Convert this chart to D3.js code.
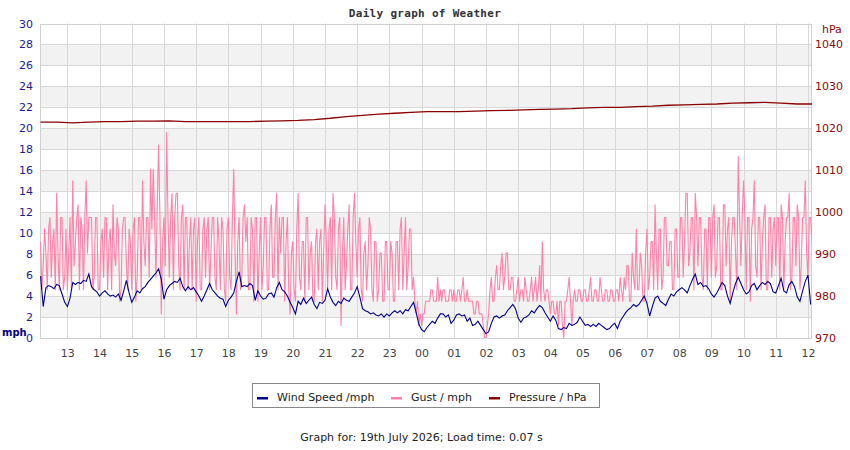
<!DOCTYPE html>
<html><head><meta charset="utf-8">
<script src="https://cdn.jsdelivr.net/npm/d3@7"></script>
<style>
body{margin:0;background:#fff}
svg{display:block}
text{font-family:"DejaVu Sans",Verdana,sans-serif}
</style>
</head><body>
<svg id="chart" width="850" height="450"></svg>
<script>
// ---------- DATA ----------
const chartTitle = "Daily graph of Weather";
const footerText = "Graph for: 19th July 2026; Load time: 0.07 s";
const seriesNames = ["Wind Speed /mph", "Gust / mph", "Pressure / hPa"];
const seriesColors = ["#00008b", "#ff80a8", "#8b0000"];
const mphTicks = [0,2,4,6,8,10,12,14,16,18,20,22,24,26,28,30];
const hpaTicks = [970,980,990,1000,1010,1020,1030,1040];
const hourLabels = ["13","14","15","16","17","18","19","20","21","22","23","00","01","02","03","04","05","06","07","08","09","10","11","12"];

// wind speed (mph): 5-minute samples starting 18 Jul 12:10
const windSpeed = [
5.9,3.0,4.8,5.0,4.9,4.7,5.1,5.0,4.2,3.4,
3.0,3.8,5.3,5.1,5.3,5.2,5.5,5.4,6.1,4.9,
4.6,4.4,4.0,4.3,4.5,4.2,4.0,4.1,3.9,4.2,
3.6,4.5,5.5,4.3,3.4,3.9,4.5,4.3,4.7,4.9,
5.3,5.6,5.9,6.2,6.6,5.6,3.7,4.6,5.0,5.2,
5.4,5.3,5.7,4.9,4.5,4.9,4.6,4.8,4.4,4.0,
3.5,4.0,4.6,5.2,4.6,4.3,4.0,3.8,3.7,3.0,
3.6,3.9,4.3,5.4,6.3,4.9,5.0,4.9,5.2,5.0,
3.6,4.5,4.0,3.7,3.8,4.2,4.3,3.9,4.8,5.3,
4.6,4.4,4.0,3.4,2.9,2.3,
3.5,3.2,3.8,3.3,3.6,3.9,3.2,2.8,3.4,3.3,
3.6,4.7,3.9,3.4,3.1,3.5,3.3,3.8,3.6,3.5,
3.9,4.3,4.9,3.9,2.8,2.6,2.5,2.3,2.4,2.2,
2.1,2.3,2.0,2.3,2.1,2.4,2.6,2.4,2.6,2.3,
2.7,2.6,3.0,3.4,2.4,1.3,0.8,0.6,1.0,1.3,
1.6,1.4,1.9,2.3,2.3,2.0,2.2,1.4,1.7,2.2,
2.3,2.1,2.2,1.6,1.9,1.2,1.3,1.6,1.2,0.8,
0.4,0.6,1.4,2.0,2.1,1.9,2.1,2.2,2.6,2.9,
3.2,2.8,1.9,1.5,1.9,2.0,2.2,2.6,2.4,2.8,
3.1,2.9,2.4,2.0,1.6,2.1,
1.7,0.9,0.8,1.0,0.9,1.4,1.2,1.3,1.5,2.0,
1.6,1.2,1.3,1.1,1.3,1.1,1.4,1.2,1.0,0.8,
0.9,1.2,1.4,0.9,1.6,2.0,2.4,2.7,2.9,3.2,
3.0,3.2,3.6,4.0,3.3,2.1,3.0,3.8,4.0,3.5,
3.3,3.1,3.7,4.2,4.0,4.4,4.6,4.8,4.6,4.3,
5.0,5.6,6.1,5.1,5.3,4.9,5.0,4.7,4.2,3.9,
4.3,4.8,5.3,5.0,4.0,3.3,4.3,5.2,5.8,5.2,
4.6,4.2,4.4,5.0,5.2,4.6,5.0,5.3,5.1,5.4,
5.2,4.4,4.3,5.0,5.7,4.5,4.3,5.1,5.4,4.9,
3.9,3.5,4.5,5.4,6.0,3.2
];

// gust (mph): 2.5-minute samples starting 18 Jul 12:10
const gust = [
9.2,4.6,6.9,10.4,8.1,4.6,10.4,11.5,5.8,9.2,10.4,4.6,13.8,8.1,4.6,11.5,11.5,4.6,5.8,10.4,
4.6,8.1,11.5,4.6,15.0,6.9,9.2,11.5,12.7,4.6,11.5,10.4,4.6,11.5,15.0,8.1,11.5,11.5,11.5,4.6,5.8,11.5,11.5,4.6,
4.6,9.2,10.4,5.8,11.5,11.5,4.6,9.2,10.4,4.6,12.7,8.1,6.9,11.5,10.4,3.5,4.6,10.4,11.5,11.5,6.9,4.6,10.4,9.2,
4.6,10.4,11.5,3.5,5.8,11.5,11.5,4.6,15.0,9.2,6.9,11.5,11.5,5.8,16.1,10.4,16.1,11.5,5.8,12.7,18.4,11.5,2.3,9.2,
11.5,6.9,19.6,11.5,5.8,11.5,13.8,4.6,11.5,13.8,13.8,6.9,4.6,11.5,12.7,4.6,11.5,11.5,4.6,9.2,11.5,4.6,10.4,11.5,
3.5,9.2,11.5,4.6,4.6,10.4,11.5,5.8,10.4,11.5,4.6,8.1,11.5,11.5,5.8,4.6,11.5,9.2,4.6,11.5,10.4,4.6,3.5,10.4,
11.5,5.8,4.6,11.5,16.1,8.1,2.3,9.2,11.5,4.6,5.8,11.5,12.7,9.2,11.5,4.6,4.6,11.5,10.4,3.5,11.5,11.5,3.5,8.1,
11.5,4.6,6.9,11.5,11.5,4.6,4.6,10.4,12.7,5.8,5.8,11.5,13.8,4.6,11.5,8.1,11.5,11.5,3.5,9.2,11.5,4.6,2.3,8.1,
9.2,4.6,3.5,10.4,13.8,5.8,4.6,9.2,9.2,3.5,11.5,11.5,4.6,8.1,9.2,3.5,3.5,9.2,10.4,4.6,9.2,10.4,3.5,8.1,
12.7,9.2,4.6,10.4,11.5,4.6,13.8,11.5,5.8,4.6,10.4,11.5,1.2,8.1,11.5,4.6,6.9,10.4,12.7,4.6,4.6,11.5,13.8,9.2,
5.8,10.4,11.5,4.6,3.5,8.1,9.2,4.6,6.9,11.5,10.4,4.6,3.5,9.2,9.2,3.5,4.6,8.1,8.1,3.5,3.5,9.2,9.2,4.6,
4.6,9.2,8.1,3.5,3.5,9.2,9.2,4.6,10.4,11.5,4.6,8.1,11.5,4.6,6.9,10.4,10.4,4.6,5.8,3.5,2.3,3.5,1.2,2.3,
1.2,2.3,2.3,3.5,3.5,3.5,3.5,4.6,4.6,3.5,3.5,3.5,5.8,3.5,4.6,3.5,4.6,4.6,3.5,3.5,3.5,4.6,4.6,3.5,
4.6,3.5,3.5,4.6,4.6,3.5,4.6,5.8,3.5,3.5,4.6,3.5,3.5,3.5,3.5,2.3,2.3,3.5,3.5,2.3,2.3,2.3,1.2,0,
0,1.2,2.3,4.6,5.8,3.5,3.5,5.8,6.9,4.6,4.6,6.9,8.1,4.6,5.8,8.1,8.1,4.6,4.6,5.8,5.8,3.5,3.5,4.6,
5.8,3.5,4.6,4.6,3.5,5.8,4.6,3.5,3.5,4.6,5.8,3.5,4.6,5.8,3.5,4.6,6.9,3.5,9.2,4.6,3.5,4.6,4.6,3.5,
2.3,3.5,3.5,2.3,2.3,3.5,1.2,3.5,3.5,1.2,0,3.5,3.5,4.6,5.8,3.5,1.2,3.5,4.6,3.5,3.5,4.6,4.6,3.5,
3.5,4.6,4.6,3.5,3.5,4.6,5.8,3.5,3.5,4.6,4.6,3.5,3.5,5.8,4.6,3.5,3.5,4.6,4.6,3.5,3.5,4.6,4.6,3.5,
3.5,4.6,4.6,3.5,5.8,4.6,3.5,5.8,4.6,6.9,6.9,3.5,3.5,8.1,5.8,4.6,10.4,4.6,4.6,8.1,6.9,3.5,3.5,8.1,
10.4,4.6,5.8,9.2,9.2,4.6,12.7,8.1,4.6,10.4,10.4,4.6,5.8,11.5,11.5,6.9,6.9,9.2,9.2,4.6,4.6,10.4,10.4,5.8,
5.8,11.5,11.5,5.8,9.2,13.8,13.8,6.9,8.1,11.5,11.5,4.6,13.8,11.5,6.9,11.5,11.5,5.8,4.6,10.4,10.4,4.6,11.5,11.5,
5.8,11.5,12.7,5.8,6.9,11.5,11.5,4.6,4.6,12.7,12.7,6.9,10.4,11.5,3.5,9.2,11.5,11.5,8.1,4.6,17.3,11.5,6.9,11.5,
15.0,11.5,4.6,11.5,11.5,3.5,10.4,11.5,15.0,6.9,5.8,11.5,11.5,4.6,9.2,11.5,12.7,4.6,4.6,11.5,11.5,5.8,10.4,11.5,
6.9,11.5,11.5,4.6,12.7,11.5,4.6,9.2,11.5,11.5,13.8,4.6,5.8,11.5,11.5,6.9,12.7,11.5,4.6,6.9,11.5,11.5,15.0,8.1,
5.8,11.5,11.5,9.2
];

// pressure (hPa): 30-minute samples starting 18 Jul 12:10
const pressure = [
1021.5,1021.5,1021.3,1021.5,1021.6,1021.6,1021.7,1021.7,1021.8,1021.6,
1021.6,1021.6,1021.6,1021.6,1021.7,1021.8,1021.9,1022.1,1022.4,1022.8,
1023.1,1023.4,1023.6,1023.8,1024.0,1024.0,1024.0,1024.1,1024.2,1024.3,
1024.4,1024.5,1024.6,1024.7,1024.9,1025.0,1025.0,1025.2,1025.3,1025.5,
1025.6,1025.7,1025.8,1026.0,1026.1,1026.2,1026.0,1025.8,1025.8
];

// ---------- CHART ----------
const svg = d3.select("#chart");
const W = 850, H = 450;
const L = 40, R = 812, T = 23.5, B = 338;

svg.append("rect").attr("width", W).attr("height", H).attr("fill", "#fff");

const start = new Date(2026, 6, 18, 12, 10);
const windTimes = windSpeed.map((_, i) => d3.timeSecond.offset(start, 300 * i));
const gustTimes = gust.map((_, i) => d3.timeSecond.offset(start, 150 * i));
const pressTimes = pressure.map((_, i) => d3.timeSecond.offset(start, 1800 * i));

const x = d3.scaleTime()
  .domain([new Date(2026, 6, 18, 12, 9), new Date(2026, 6, 19, 12, 7, 30)])
  .range([L, R]);
const yL = d3.scaleLinear().domain([0, 30]).range([B, T]);
const yR = d3.scaleLinear().domain([970, 1045]).range([B, T]);

const hourTicks = hourLabels.map((h, i) => d3.timeHour.offset(new Date(2026, 6, 18, 13), i));

// bands
const g = svg.append("g");
mphTicks.filter(v => v % 4 === 2 && v < 30).forEach(v => {
  g.append("rect")
    .attr("x", L).attr("width", R - L)
    .attr("y", yL(v + 2)).attr("height", yL(v) - yL(v + 2))
    .attr("fill", "#f2f2f2");
});
// horizontal grid
g.selectAll("line.h").data(mphTicks).join("line")
  .attr("x1", L).attr("x2", R)
  .attr("y1", d => Math.round(yL(d)) + 0.5).attr("y2", d => Math.round(yL(d)) + 0.5)
  .attr("stroke", "#d8d8d8").attr("stroke-width", 1);
// vertical grid
g.selectAll("line.v").data(hourTicks).join("line")
  .attr("x1", d => Math.round(x(d)) + 0.5).attr("x2", d => Math.round(x(d)) + 0.5)
  .attr("y1", T).attr("y2", B)
  .attr("stroke", "#d8d8d8").attr("stroke-width", 1);
// border
g.append("rect").attr("x", L + 0.5).attr("y", Math.round(T) + 0.5)
  .attr("width", R - L - 1).attr("height", B - Math.round(T))
  .attr("fill", "none").attr("stroke", "#d0d0d0");

// clip
svg.append("clipPath").attr("id", "clip").append("rect")
  .attr("x", L).attr("y", T).attr("width", R - L).attr("height", B - T);
const plot = svg.append("g").attr("clip-path", "url(#clip)");

const gustLine = d3.line().x((d, i) => x(gustTimes[i])).y(d => yL(d));
plot.append("path").datum(gust).attr("d", gustLine)
  .attr("fill", "none").attr("stroke", seriesColors[1]).attr("stroke-width", 1.1)
  .attr("stroke-linejoin", "round");

const windLine = d3.line().x((d, i) => x(windTimes[i])).y(d => yL(d));
plot.append("path").datum(windSpeed).attr("d", windLine)
  .attr("fill", "none").attr("stroke", seriesColors[0]).attr("stroke-width", 1.1);

const pLine = d3.line().x((d, i) => x(pressTimes[i])).y(d => yR(d));
plot.append("path").datum(pressure).attr("d", pLine)
  .attr("fill", "none").attr("stroke", seriesColors[2]).attr("stroke-width", 1.3);

// axes
const axL = svg.append("g").attr("transform", `translate(${L},0)`)
  .call(d3.axisLeft(yL).tickValues(mphTicks).tickSize(0).tickPadding(7));
axL.select(".domain").remove();
axL.selectAll("text").attr("fill", "#1c1c8f").style("font-size", "11px")
  .style("font-family", '"DejaVu Sans",Verdana,sans-serif');

const axR = svg.append("g").attr("transform", `translate(${R},0)`)
  .call(d3.axisRight(yR).tickValues(hpaTicks).tickSize(0).tickPadding(3)
    .tickFormat(d3.format("d")));
axR.select(".domain").remove();
axR.selectAll("text").attr("fill", "#8b0a0a").style("font-size", "11px")
  .style("font-family", '"DejaVu Sans",Verdana,sans-serif');

const axB = svg.append("g").attr("transform", `translate(0,${B})`)
  .call(d3.axisBottom(x).tickValues(hourTicks).tickSize(0).tickPadding(11)
    .tickFormat((d, i) => hourLabels[i]));
axB.select(".domain").remove();
axB.selectAll("text").attr("fill", "#444").style("font-size", "11px")
  .style("font-family", '"DejaVu Sans",Verdana,sans-serif');

// unit labels
svg.append("text").attr("x", 2).attr("y", 336).text("mph")
  .attr("fill", "#000080").style("font-size", "10px").style("font-weight", "bold");
svg.append("text").attr("x", 822).attr("y", 33).text("hPa")
  .attr("fill", "#8b0a0a").style("font-size", "11px");

// title
svg.append("text").attr("x", 425).attr("y", 16.5).attr("text-anchor", "middle")
  .text(chartTitle)
  .style("font-family", '"DejaVu Sans Mono",monospace').style("font-weight", "bold")
  .style("font-size", "11px").style("letter-spacing", "0.3px").attr("fill", "#333");

// legend
const lg = svg.append("g");
lg.append("rect").attr("x", 252.5).attr("y", 383.5).attr("width", 347).attr("height", 24)
  .attr("fill", "#fff").attr("stroke", "#888");
const legendX = [257, 391, 489];
seriesNames.forEach((n, i) => {
  lg.append("rect").attr("x", legendX[i]).attr("y", 397).attr("width", 11).attr("height", 2.5)
    .attr("fill", seriesColors[i]);
  lg.append("text").attr("x", legendX[i] + 20).attr("y", 401).text(n)
    .attr("fill", "#222").style("font-size", "11px");
});

// footer
svg.append("text").attr("x", 421.5).attr("y", 441).attr("text-anchor", "middle")
  .text(footerText).attr("fill", "#222").style("font-size", "11px");
</script>
</body></html>
